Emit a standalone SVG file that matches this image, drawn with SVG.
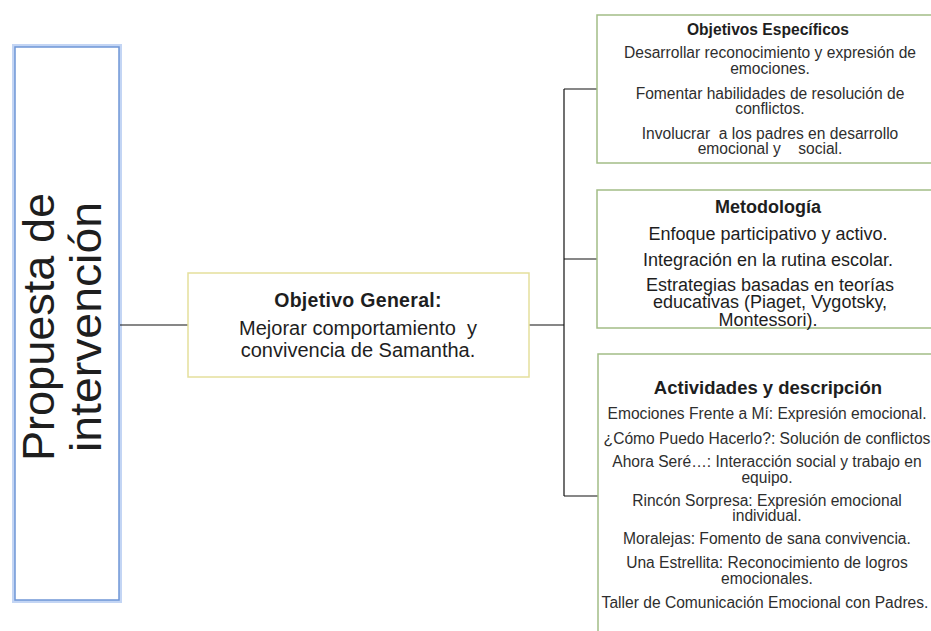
<svg xmlns="http://www.w3.org/2000/svg" width="931" height="631" viewBox="0 0 931 631">
<style>
text{font-family:"Liberation Sans",Arial,sans-serif;fill:#1e1e1e;text-anchor:middle}
.b{font-weight:bold}
.s{font-size:15.6px;fill:#2e2e2e}
.m{font-size:18px}
.r{font-size:44px}
.g{fill:#fff;stroke:#a3bd86;stroke-width:1.5}
.c{fill:none;stroke:#111;stroke-width:1.2}
</style>
<rect width="931" height="631" fill="#fff"/>
<g id="propuesta">
<rect x="15" y="47" width="104" height="553" fill="none" stroke="#c3d5f4" stroke-width="6"/>
<rect x="15" y="47" width="104" height="553" fill="#fff" stroke="#6f96d6" stroke-width="1.5"/>
<text class="r" transform="translate(54,327) rotate(-90)" textLength="268" lengthAdjust="spacingAndGlyphs">Propuesta de</text>
<text class="r" transform="translate(101,327) rotate(-90)" textLength="250" lengthAdjust="spacingAndGlyphs">intervención</text>
</g>
<g id="connectors">
<line class="c" x1="120" y1="325" x2="188" y2="325"/>
<line class="c" x1="529" y1="325" x2="564" y2="325"/>
<line class="c" x1="564" y1="89" x2="564" y2="496"/>
<line class="c" x1="564" y1="89" x2="598" y2="89"/>
<line class="c" x1="564" y1="259" x2="598" y2="259"/>
<line class="c" x1="564" y1="496" x2="598" y2="496"/>
</g>
<g id="objetivo-general">
<rect x="188" y="273" width="341" height="104" fill="#fff" stroke="#e5df9c" stroke-width="1.5"/>
<text x="358" y="307" class="b" style="font-size:19.5px;letter-spacing:0.3px">Objetivo General:</text>
<text x="358" y="335" style="font-size:20px" xml:space="preserve">Mejorar comportamiento  y</text>
<text x="358" y="357" style="font-size:20px">convivencia de Samantha.</text>
</g>
<g id="objetivos-especificos">
<rect class="g" x="597" y="15" width="345" height="148"/>
<text x="768" y="35" class="b s" style="fill:#1e1e1e">Objetivos Específicos</text>
<text x="770" y="58" class="s">Desarrollar reconocimiento y expresión de</text>
<text x="770" y="74" class="s">emociones.</text>
<text x="770" y="99" class="s">Fomentar habilidades de resolución de</text>
<text x="770" y="114" class="s">conflictos.</text>
<text x="770" y="139" class="s" xml:space="preserve">Involucrar  a los padres en desarrollo</text>
<text x="770" y="154" class="s" xml:space="preserve">emocional y    social.</text>
</g>
<g id="metodologia">
<rect class="g" x="597" y="190" width="345" height="138"/>
<text x="768" y="213" class="b m">Metodología</text>
<text x="768" y="240" class="m">Enfoque participativo y activo.</text>
<text x="768" y="266" class="m">Integración en la rutina escolar.</text>
<text x="770" y="291" class="m">Estrategias basadas en teorías</text>
<text x="770" y="308" class="m">educativas (Piaget, Vygotsky,</text>
<text x="768" y="326" class="m">Montessori).</text>
</g>
<g id="actividades">
<rect class="g" x="598" y="354" width="345" height="290"/>
<text x="768" y="394" class="b" style="font-size:18.5px">Actividades y descripción</text>
<text x="767" y="419" class="s">Emociones Frente a Mí: Expresión emocional.</text>
<text x="767" y="444" class="s">¿Cómo Puedo Hacerlo?: Solución de conflictos</text>
<text x="767" y="467" class="s">Ahora Seré…: Interacción social y trabajo en</text>
<text x="767" y="483" class="s">equipo.</text>
<text x="767" y="506" class="s">Rincón Sorpresa: Expresión emocional</text>
<text x="767" y="521" class="s">individual.</text>
<text x="767" y="544" class="s">Moralejas: Fomento de sana convivencia.</text>
<text x="767" y="568" class="s">Una Estrellita: Reconocimiento de logros</text>
<text x="767" y="584" class="s">emocionales.</text>
<text x="765" y="608" class="s">Taller de Comunicación Emocional con Padres.</text>
</g>
</svg>
